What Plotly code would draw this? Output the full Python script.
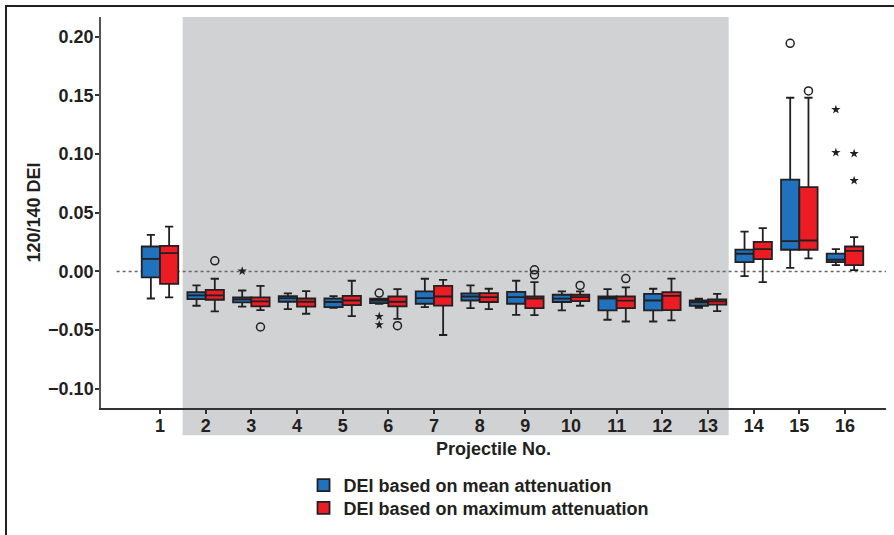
import plotly.graph_objects as go

# ---------------- data ----------------
categories = list(range(1, 17))
tick_labels = [str(c) for c in categories]

# DEI based on mean attenuation (blue)
mean_q1 = [-0.0051, -0.0235, -0.0264, -0.0258, -0.0303, -0.0270, -0.0275, -0.0247,
           -0.0275, -0.0260, -0.0332, -0.0332, -0.0292, 0.0080, 0.0185, 0.0080]
mean_median = [0.0108, -0.0204, -0.0238, -0.0227, -0.0260, -0.0247, -0.0227, -0.0213,
               -0.0218, -0.0232, -0.0230, -0.0247, -0.0264, 0.0151, 0.0259, 0.0100]
mean_q3 = [0.0213, -0.0176, -0.0221, -0.0210, -0.0230, -0.0232, -0.0170, -0.0187,
           -0.0173, -0.0198, -0.0213, -0.0190, -0.0247, 0.0187, 0.0783, 0.0153]
mean_low = [-0.0230, -0.0292, -0.0300, -0.0320, -0.0310, -0.0275, -0.0303, -0.0312,
            -0.0369, -0.0332, -0.0411, -0.0426, -0.0309, -0.0039, 0.0031, 0.0054]
mean_high = [0.0312, -0.0119, -0.0162, -0.0187, -0.0210, -0.0232, -0.0062, -0.0119,
             -0.0079, -0.0170, -0.0150, -0.0147, -0.0232, 0.0340, 0.1480, 0.0190]

# DEI based on maximum attenuation (red)
max_q1 = [-0.0105, -0.0241, -0.0298, -0.0300, -0.0286, -0.0298, -0.0290, -0.0260,
          -0.0312, -0.0252, -0.0312, -0.0329, -0.0283, 0.0106, 0.0185, 0.0054]
max_median = [0.0156, -0.0204, -0.0255, -0.0258, -0.0247, -0.0258, -0.0213, -0.0218,
              -0.0232, -0.0218, -0.0249, -0.0207, -0.0255, 0.0190, 0.0264, 0.0176]
max_q3 = [0.0219, -0.0156, -0.0221, -0.0230, -0.0207, -0.0213, -0.0122, -0.0184,
          -0.0213, -0.0198, -0.0213, -0.0176, -0.0238, 0.0253, 0.0718, 0.0213]
max_low = [-0.0221, -0.0340, -0.0329, -0.0360, -0.0380, -0.0403, -0.0541, -0.0320,
           -0.0371, -0.0292, -0.0426, -0.0417, -0.0337, -0.0090, 0.0111, 0.0012]
max_high = [0.0383, -0.0062, -0.0122, -0.0167, -0.0079, -0.0150, -0.0071, -0.0147,
            -0.0090, -0.0170, -0.0136, -0.0060, -0.0190, 0.0369, 0.1480, 0.0293]

# outliers: (projectile, value)
mean_circle_cat = [6, 15]
mean_circle_val = [-0.0184, 0.1944]
mean_star_cat = [3, 6, 6, 16, 16]
mean_star_val = [0.0003, -0.0383, -0.0454, 0.1379, 0.1013]
max_circle_cat = [2, 3, 6, 9, 9, 10, 11, 15]
max_circle_val = [0.0091, -0.0473, -0.0462, 0.0014, -0.0028, -0.0119, -0.0060, 0.1538]
max_star_cat = [16, 16]
max_star_val = [0.1004, 0.0774]

# ---------------- style ----------------
FONT = "Liberation Sans, Arial, Helvetica, sans-serif"
DARK = "#231f20"
BLUE = "#1f72bb"
RED = "#ec1c24"
GRAY = "#d1d2d4"
OFF = 0.2
BW = 0.4

fig = go.Figure()

fig.add_trace(go.Box(
    name="DEI based on mean attenuation",
    x=[c - OFF for c in categories],
    q1=mean_q1, median=mean_median, q3=mean_q3,
    lowerfence=mean_low, upperfence=mean_high,
    width=BW, whiskerwidth=0.45, boxpoints=False,
    fillcolor=BLUE, line=dict(color=DARK, width=1.8),
    hoverinfo="skip", legend="legend",
))
fig.add_trace(go.Box(
    name="DEI based on maximum attenuation",
    x=[c + OFF for c in categories],
    q1=max_q1, median=max_median, q3=max_q3,
    lowerfence=max_low, upperfence=max_high,
    width=BW, whiskerwidth=0.45, boxpoints=False,
    fillcolor=RED, line=dict(color=DARK, width=1.8),
    hoverinfo="skip", legend="legend2",
))

circle = dict(symbol="circle-open", size=8, color=DARK, line=dict(width=1.5, color=DARK))
star = dict(symbol="star", size=7, color=DARK, line=dict(width=0))

fig.add_trace(go.Scatter(x=[c - OFF for c in mean_circle_cat], y=mean_circle_val,
                         mode="markers", marker=circle, showlegend=False, hoverinfo="skip"))
fig.add_trace(go.Scatter(x=[c - OFF for c in mean_star_cat], y=mean_star_val,
                         mode="markers", marker=star, showlegend=False, hoverinfo="skip"))
fig.add_trace(go.Scatter(x=[c + OFF for c in max_circle_cat], y=max_circle_val,
                         mode="markers", marker=circle, showlegend=False, hoverinfo="skip"))
fig.add_trace(go.Scatter(x=[c + OFF for c in max_star_cat], y=max_star_val,
                         mode="markers", marker=star, showlegend=False, hoverinfo="skip"))

shapes = [
    # shaded projectiles 2-13
    dict(type="rect", xref="paper", yref="paper", x0=0.104, x1=0.7996, y0=-0.070, y1=1.0,
         fillcolor=GRAY, line=dict(width=0), layer="below"),
    # dotted zero reference
    dict(type="line", xref="x", yref="y", x0=0.05, x1=16.898, y0=0, y1=0,
         line=dict(color="#666666", width=1.3, dash="dot"), layer="below"),
    # outer frame (top and left)
    dict(type="line", xref="paper", yref="paper", x0=-0.121, x1=1.0102, y0=1.0282, y1=1.0282,
         line=dict(color=DARK, width=2), layer="above"),
    dict(type="line", xref="paper", yref="paper", x0=-0.121, x1=-0.121, y0=1.0307, y1=-0.35,
         line=dict(color=DARK, width=2), layer="above"),
]

legend_common = dict(xanchor="left", yanchor="middle",
                     font=dict(family=FONT, size=18, color=DARK, weight="bold"),
                     bgcolor="rgba(0,0,0,0)", itemclick=False, itemdoubleclick=False,
                     borderwidth=0)

fig.update_layout(
    width=894, height=535,
    margin=dict(l=101, r=8, t=17, b=127, autoexpand=False),
    paper_bgcolor="white", plot_bgcolor="rgba(0,0,0,0)",
    font=dict(family=FONT, size=18, color=DARK, weight="bold"),
    boxmode="overlay",
    shapes=shapes,
    showlegend=True,
    legend=dict(x=0.258, y=-0.198, **legend_common),
    legend2=dict(x=0.258, y=-0.256, **legend_common),
    xaxis=dict(range=[-0.292, 16.898], tickmode="array", tickvals=categories, ticktext=tick_labels,
               automargin=False, ticklabelstandoff=-3,
               showgrid=False, zeroline=False, showline=True, linecolor="#333333", linewidth=1.5,
               ticks="outside", ticklen=4, tickwidth=1.5, tickcolor="#333333",
               title=dict(text="Projectile No.", font=dict(size=18, weight="bold"), standoff=7)),
    yaxis=dict(range=[-0.1163, 0.2168], tickmode="array",
               tickvals=[-0.10, -0.05, 0.0, 0.05, 0.10, 0.15, 0.20],
               tickformat=".2f", automargin=False, ticklabelstandoff=-2,
               showgrid=False, zeroline=False, showline=True, linecolor="#555555", linewidth=1.5,
               ticks="outside", ticklen=4, tickwidth=1.5, tickcolor="#333333",
               title=dict(text="120/140 DEI", font=dict(size=18, weight="bold"), standoff=3)),
)

fig.write_html("out.html", config={"displayModeBar": False},
               post_script="document.body.style.margin='0px';")
